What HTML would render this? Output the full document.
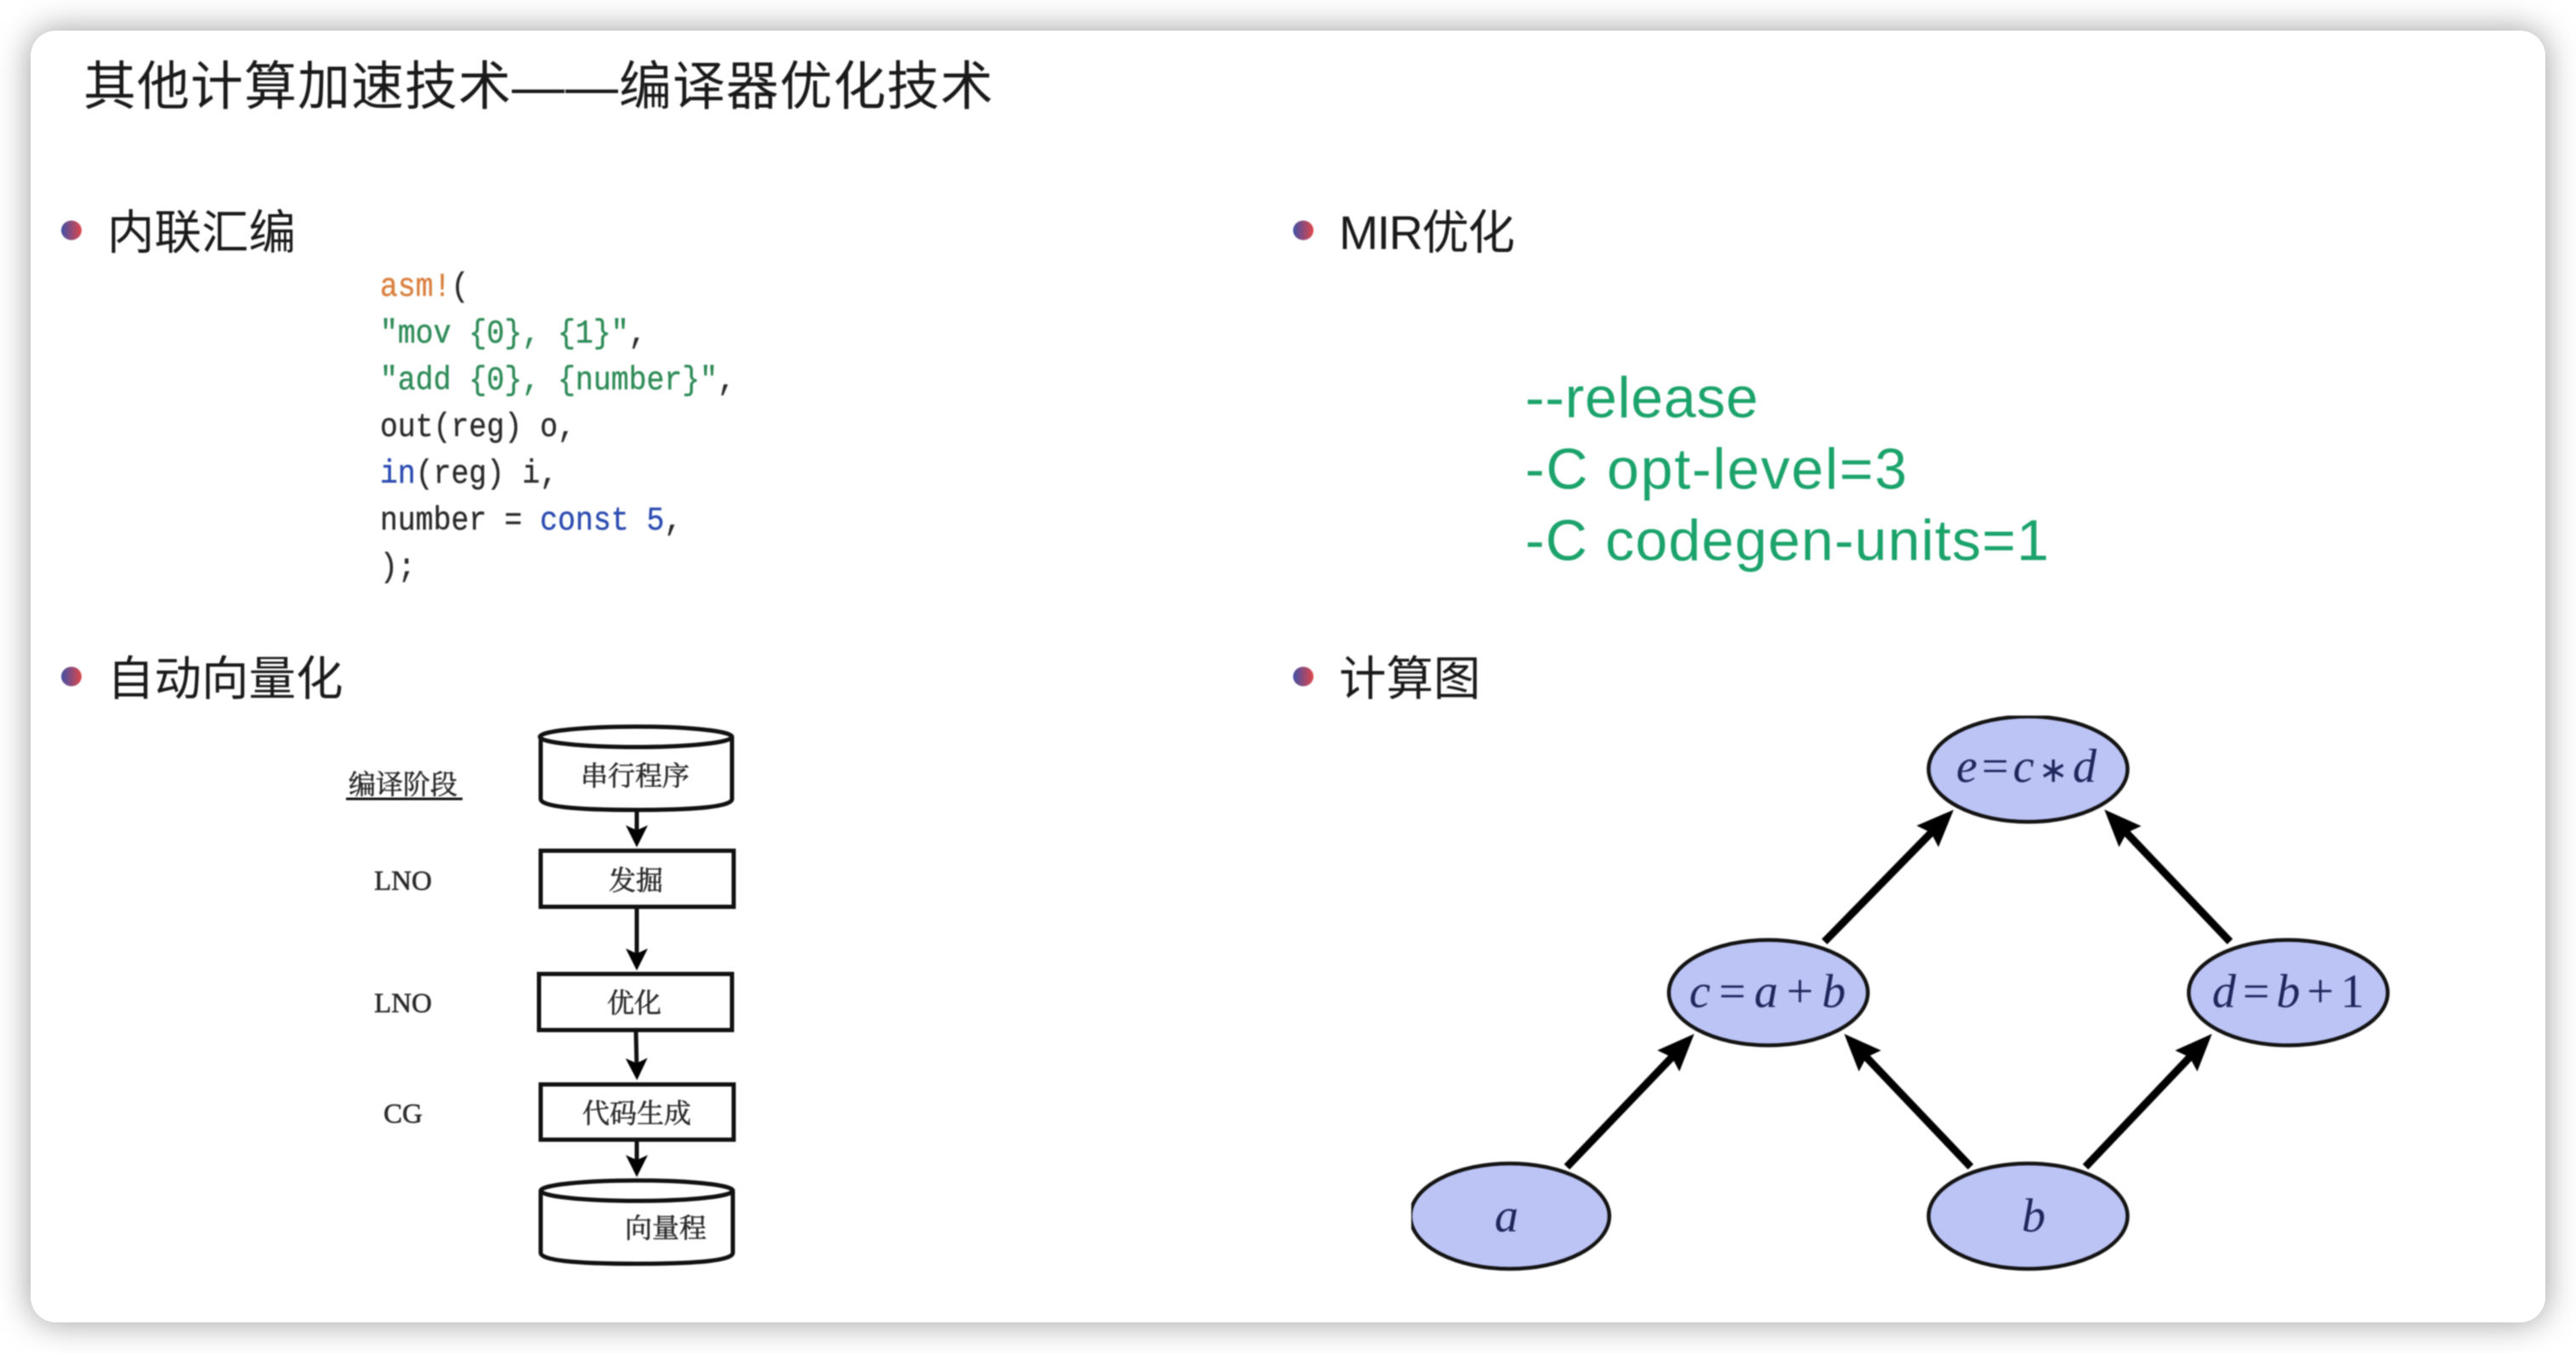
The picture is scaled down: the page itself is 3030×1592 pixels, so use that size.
<!DOCTYPE html>
<html lang="zh"><head><meta charset="utf-8"><title>其他计算加速技术</title>
<style>
html,body{margin:0;padding:0;background:#fff;width:3030px;height:1592px;overflow:hidden}
#card{position:absolute;left:36px;top:36px;width:2958px;height:1520px;background:#fff;border-radius:30px;box-shadow:0 0 40px rgba(0,0,0,.4)}
svg{position:absolute;left:0;top:0;filter:blur(.7px)}
.h{font-family:"Liberation Sans","Noto Sans CJK SC",sans-serif;fill:#1a1a1a}
.code{font-family:"Liberation Mono","DejaVu Sans Mono",monospace;font-size:38.5px;fill:#2b2b2b;stroke:#2b2b2b;stroke-width:.4}
.g{font-family:"Liberation Sans","Noto Sans CJK SC",sans-serif;font-size:68px;fill:#1ba36b}
.s{font-family:"Liberation Serif","Noto Serif CJK SC",serif;fill:#2a2a2a;stroke:#2a2a2a;stroke-width:.6;text-anchor:middle;font-size:32px}
.m{font-family:"Liberation Serif",serif;font-size:56px;fill:#20265c}
.m tspan.i{font-style:italic}
.m tspan.o{font-size:42px}
</style></head><body>
<div id="card"></div>
<svg width="3030" height="1592" viewBox="0 0 3030 1592" xmlns="http://www.w3.org/2000/svg">
<defs>
<linearGradient id="bg" x1="0" x2="1" y1="0" y2="0"><stop offset="0" stop-color="#3f4fa5"/><stop offset="1" stop-color="#e0474a"/></linearGradient>
<marker id="big" markerUnits="userSpaceOnUse" markerWidth="60" markerHeight="50" refX="24" refY="20" orient="auto"><path d="M0,2 L44,20 L0,38 L6,20 Z" fill="#000"/></marker>
<marker id="sm" markerUnits="userSpaceOnUse" markerWidth="40" markerHeight="40" refX="14" refY="14" orient="auto"><path d="M0,1 L26,14 L0,27 L6,14 Z" fill="#000"/></marker>
<clipPath id="gclip"><rect x="1660" y="842" width="1200" height="680"/></clipPath>
</defs>

<!-- title -->
<text class="h" x="98" y="123" font-size="62" textLength="1070">其他计算加速技术——编译器优化技术</text>

<!-- bullets -->
<ellipse cx="84" cy="271" rx="12" ry="11.5" fill="url(#bg)"/>
<ellipse cx="84" cy="796" rx="12" ry="11.5" fill="url(#bg)"/>
<ellipse cx="1533" cy="271" rx="12" ry="11.5" fill="url(#bg)"/>
<ellipse cx="1533" cy="796" rx="12" ry="11.5" fill="url(#bg)"/>
<text class="h" x="126" y="293" font-size="55.5">内联汇编</text>
<text class="h" x="126" y="818" font-size="55.5">自动向量化</text>
<text class="h" x="1575" y="293" font-size="55.5" textLength="207">MIR优化</text>
<text class="h" x="1575" y="818" font-size="55.5">计算图</text>

<!-- code -->
<g transform="translate(447 0) scale(.905 1)">
<text class="code" x="0" y="348"><tspan style="fill:#d9803f;stroke:#d9803f">asm!</tspan>(</text>
<text class="code" x="0" y="403" style="fill:#2e8b57;stroke:#2e8b57">"mov {0}, {1}"<tspan style="fill:#2b2b2b;stroke:#2b2b2b">,</tspan></text>
<text class="code" x="0" y="458" style="fill:#2e8b57;stroke:#2e8b57">"add {0}, {number}"<tspan style="fill:#2b2b2b;stroke:#2b2b2b">,</tspan></text>
<text class="code" x="0" y="513">out(reg) o,</text>
<text class="code" x="0" y="568"><tspan style="fill:#2b4bb0;stroke:#2b4bb0">in</tspan>(reg) i,</text>
<text class="code" x="0" y="623">number = <tspan style="fill:#2b4bb0;stroke:#2b4bb0">const 5</tspan>,</text>
<text class="code" x="0" y="678">);</text>
</g>

<!-- green flags -->
<text class="g" x="1794" y="491" textLength="274">--release</text>
<text class="g" x="1794" y="575" textLength="449">-C opt-level=3</text>
<text class="g" x="1794" y="659" textLength="616">-C codegen-units=1</text>

<!-- flowchart -->
<g fill="none" stroke="#111" stroke-width="5">
<path d="M636,867 V940 Q636,953 748,953 Q861,953 861,940 V867"/>
<ellipse cx="748" cy="867" rx="113" ry="12"/>
<rect x="636" y="1001" width="227" height="66"/>
<rect x="634" y="1146" width="227" height="66"/>
<rect x="636" y="1276" width="227" height="65"/>
<path d="M636,1401 V1474 Q636,1487 749,1487 Q862,1487 862,1474 V1401"/>
<ellipse cx="749" cy="1401" rx="113" ry="12"/>
<path d="M749,953 V985" marker-end="url(#sm)"/>
<path d="M749,1067 V1130" marker-end="url(#sm)"/>
<path d="M748,1212 L749,1259" marker-end="url(#sm)"/>
<path d="M749,1341 V1373" marker-end="url(#sm)"/>
<path d="M407,940 H544" stroke-width="3"/>
</g>
<text class="s" x="747" y="924">串行程序</text>
<text class="s" x="748" y="1047">发掘</text>
<text class="s" x="746" y="1191">优化</text>
<text class="s" x="749" y="1321">代码生成</text>
<text class="s" x="783" y="1456">向量程</text>
<text class="s" x="474" y="934">编译阶段</text>
<text class="s" x="474" y="1047" style="font-size:33px">LNO</text>
<text class="s" x="474" y="1191" style="font-size:33px">LNO</text>
<text class="s" x="474" y="1321" style="font-size:33px">CG</text>

<!-- computation graph -->
<g clip-path="url(#gclip)" fill="#bcc4f6" stroke="#141414" stroke-width="4.5">
<ellipse cx="2385.5" cy="905" rx="117" ry="62"/>
<ellipse cx="2080" cy="1168" rx="117" ry="62"/>
<ellipse cx="2691.5" cy="1168" rx="117" ry="62"/>
<ellipse cx="1776" cy="1431" rx="117" ry="62"/>
<ellipse cx="2385.5" cy="1431" rx="117" ry="62"/>
</g>
<g stroke="#000" stroke-width="9" fill="none">
<path d="M1843,1373 L1979,1231" marker-end="url(#big)"/>
<path d="M2146,1108 L2284,967" marker-end="url(#big)"/>
<path d="M2623,1108 L2489,967" marker-end="url(#big)"/>
<path d="M2318,1373 L2183,1231" marker-end="url(#big)"/>
<path d="M2453,1373 L2588,1231" marker-end="url(#big)"/>
</g>
<text class="m" x="2301" y="920" textLength="165"><tspan class="i">e</tspan>=<tspan class="i">c</tspan><tspan class="o">∗</tspan><tspan class="i">d</tspan></text>
<text class="m" x="1987" y="1185" textLength="184"><tspan class="i">c</tspan>=<tspan class="i">a</tspan>+<tspan class="i">b</tspan></text>
<text class="m" x="2602" y="1185" textLength="179"><tspan class="i">d</tspan>=<tspan class="i">b</tspan>+1</text>
<text class="m" x="1758" y="1449"><tspan class="i">a</tspan></text>
<text class="m" x="2378" y="1449"><tspan class="i">b</tspan></text>
</svg>
</body></html>
